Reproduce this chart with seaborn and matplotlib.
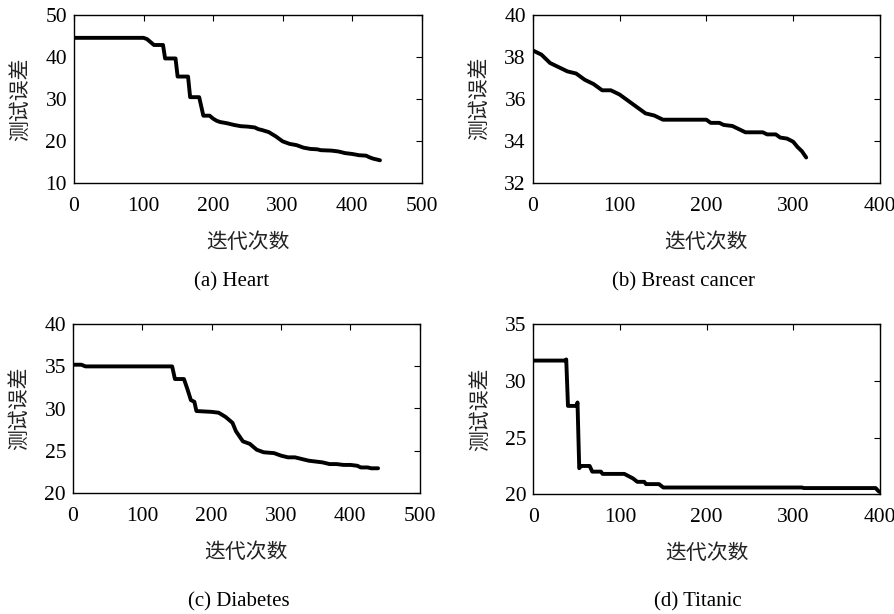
import matplotlib
matplotlib.use("Agg")
import matplotlib.pyplot as plt
import seaborn as sns
import pandas as pd

# ---------------- data ----------------
a_x = [0, 100, 105, 110, 115, 128, 131, 146, 149, 164, 167, 180, 186, 195, 200, 205, 210, 220, 230, 240,
       250, 260, 265, 270, 280, 290, 300, 310, 320, 330, 340, 350, 355, 370, 380, 390, 400, 410, 420, 425,
       430, 440]
a_y = [44.5, 44.5, 44.2, 43.5, 42.8, 42.8, 39.6, 39.6, 35.3, 35.3, 30.4, 30.4, 26, 26, 25.3, 24.8, 24.5,
       24.2, 23.8, 23.5, 23.4, 23.2, 22.8, 22.6, 22.1, 21.1, 19.9, 19.3, 19.0, 18.4, 18.1, 18.0, 17.8, 17.7,
       17.5, 17.1, 16.9, 16.6, 16.5, 16.1, 15.8, 15.4]

b_x = [0, 5, 10, 20, 30, 40, 50, 60, 70, 80, 90, 100, 110, 120, 130, 140, 150, 200, 205, 215, 220, 230,
       240, 245, 265, 270, 280, 285, 293, 300, 305, 310, 315]
b_y = [38.3, 38.2, 38.1, 37.7, 37.5, 37.3, 37.2, 36.9, 36.7, 36.4, 36.4, 36.2, 35.9, 35.6, 35.3, 35.2,
       35.0, 35.0, 34.85, 34.85, 34.75, 34.7, 34.5, 34.4, 34.4, 34.3, 34.3, 34.15, 34.1, 33.95, 33.7, 33.5,
       33.2]

c_x = [0, 12, 18, 143, 147, 160, 165, 170, 175, 178, 200, 210, 220, 230, 235, 245, 255, 265, 275, 290,
       300, 310, 320, 330, 340, 350, 360, 370, 380, 390, 400, 410, 415, 425, 430, 440]
c_y = [35.2, 35.2, 35.0, 35.0, 33.5, 33.5, 32.3, 31.0, 30.8, 29.7, 29.6, 29.5, 29.0, 28.3, 27.3, 26.1,
       25.8, 25.1, 24.8, 24.7, 24.4, 24.2, 24.2, 24.0, 23.8, 23.7, 23.6, 23.4, 23.4, 23.3, 23.3, 23.2, 23.0,
       23.0, 22.9, 22.9]

d_x = [0, 37, 38, 40, 50, 51, 53, 55, 65, 68, 78, 80, 105, 115, 120, 128, 130, 145, 150, 310, 312, 395,
       398, 400]
d_y = [31.8, 31.8, 31.9, 27.8, 27.8, 28.1, 22.3, 22.5, 22.5, 22.0, 22.0, 21.8, 21.8, 21.4, 21.1, 21.1,
       20.9, 20.9, 20.6, 20.6, 20.55, 20.55, 20.3, 20.2]

captions = ["(a) Heart", "(b) Breast cancer", "(c) Diabetes", "(d) Titanic"]
xlims = [(0, 500), (0, 400), (0, 500), (0, 400)]
ylims = [(10, 50), (32, 40), (20, 40), (20, 35)]
xticks = [[0, 100, 200, 300, 400, 500], [0, 100, 200, 300, 400],
          [0, 100, 200, 300, 400, 500], [0, 100, 200, 300, 400]]
yticks = [[10, 20, 30, 40, 50], [32, 34, 36, 38, 40],
          [20, 25, 30, 35, 40], [20, 25, 30, 35]]
xlabel = "迭代次数"
ylabel = "测试误差"

# ---------------- style ----------------
sns.set_theme(style="white")
plt.rcParams['font.family'] = ['Liberation Serif', 'Noto Sans CJK SC', 'DejaVu Sans']
plt.rcParams['axes.edgecolor'] = 'black'
plt.rcParams['axes.linewidth'] = 1.0

W, H = 895, 614
fig = plt.figure(figsize=(W / 100, H / 100), dpi=100)
fig.patch.set_facecolor('white')

# axes boxes in pixels: left, right, top, bottom
boxes = [(74, 421.7, 14.7, 183), (532.7, 880, 14.7, 182.7),
         (73, 419.7, 324.3, 492.7), (533.3, 880, 324.3, 494.3)]
caption_pos = [(232, 282), (684, 282), (239, 601.7), (698, 601.7)]

datasets = [(a_x, a_y), (b_x, b_y), (c_x, c_y), (d_x, d_y)]
cjk = ['Noto Sans CJK SC', 'DejaVu Sans']

for i, ((xs, ys), (l, r, t, b)) in enumerate(zip(datasets, boxes)):
    ax = fig.add_axes([l / W, (H - b) / H, (r - l) / W, (b - t) / H])
    df = pd.DataFrame({"iter": xs, "err": ys})
    sns.lineplot(data=df, x="iter", y="err", ax=ax, color="black", linewidth=2.8,
                 estimator=None, sort=False)
    ax.set_xlim(*xlims[i])
    ax.set_ylim(*ylims[i])
    ax.set_xticks(xticks[i])
    ax.set_yticks(yticks[i])
    ax.tick_params(direction='in', length=4, width=0.8, top=True, right=True,
                   labelsize=15.5, colors='black')
    ax.tick_params(axis='x', pad=10)
    ax.tick_params(axis='y', pad=5)
    for s in ax.spines.values():
        s.set_visible(True)
        s.set_color('black')
        s.set_linewidth(1.0)
    ax.set_xlabel(xlabel, family=cjk, fontsize=15, labelpad=11, color='#222222')
    ax.set_ylabel(ylabel, family=cjk, fontsize=15, labelpad=10, color='#222222')
    cx, cy = caption_pos[i]
    fig.text(cx / W, 1 - cy / H, captions[i], ha='center', va='center',
             fontsize=15, family=['Liberation Serif'], color='black')

fig.savefig("out.png", dpi=100, facecolor='white')
